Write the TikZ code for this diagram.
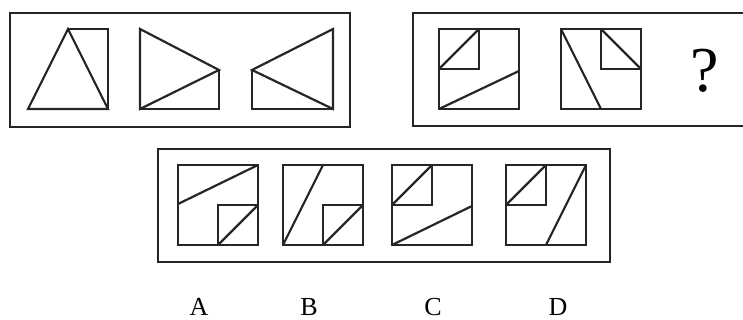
\documentclass[tikz,border=0pt]{standalone}
\usepackage{fontspec}
\setmainfont{Liberation Serif}
\usepackage{tikz}
\newcommand\bigsq[2]{%
  \draw[figline] (#1,#2) rectangle ++(80,80);}
\newcommand\smallsq[2]{%
  \draw[figline] (#1,#2) rectangle ++(40,40);}
\tikzset{
  framebox/.style={draw=black!85, line width=2.8pt},
  figline/.style={draw=black!85, line width=2.2pt, line join=miter},
  optlabel/.style={anchor=base, inner sep=0pt,
    font=\fontsize{26}{26}\selectfont},
}

\begin{document}
\begin{tikzpicture}[x=1pt, y=-1pt]
\clip (0,0) rectangle (743,320);
% frames
\draw[framebox] (10,13) rectangle (350,127);
\draw[framebox] (413,13) rectangle (750,126);
\draw[framebox] (158,149) rectangle (610,262);
% first row, left frame
\draw[figline] (68,29) -| (108,109);
\draw[figline] (28,109) -- (68,29) -- (108,109) -- cycle;
\draw[figline] (140,29) -- (219,70) -- (140,109) -- cycle;
\draw[figline] (140,109) -| (219,70);
\draw[figline] (333,29) -- (252,70) -- (333,109) -- cycle;
\draw[figline] (333,109) -| (252,70);
% first row, right frame
\bigsq{439}{29}
\smallsq{439}{29}
\draw[figline] (439,69) -- (479,29);
\draw[figline] (439,109) -- (519,71);
\bigsq{561}{29}
\smallsq{601}{29}
\draw[figline] (601,29) -- (641,69);
\draw[figline] (561,29) -- (601,109);
\node[anchor=base, inner sep=0pt, font=\fontsize{64}{64}\selectfont]
  (quest) at (705,92) {?};
% options
\bigsq{178}{165}
\smallsq{218}{205}
\draw[figline] (218,245) -- (258,205);
\draw[figline] (178,204) -- (258,165);
\bigsq{283}{165}
\smallsq{323}{205}
\draw[figline] (323,245) -- (363,205);
\draw[figline] (283,245) -- (323,165);
\bigsq{392}{165}
\smallsq{392}{165}
\draw[figline] (392,205) -- (432,165);
\draw[figline] (392,245) -- (472,206);
\bigsq{506}{165}
\smallsq{506}{165}
\draw[figline] (506,205) -- (546,165);
\draw[figline] (546,245) -- (586,165);
% labels
\node[optlabel] (labA) at (199,315) {A};
\node[optlabel] (labB) at (309,315) {B};
\node[optlabel] (labC) at (433,315) {C};
\node[optlabel] (labD) at (558,315) {D};
\end{tikzpicture}
\end{document}
